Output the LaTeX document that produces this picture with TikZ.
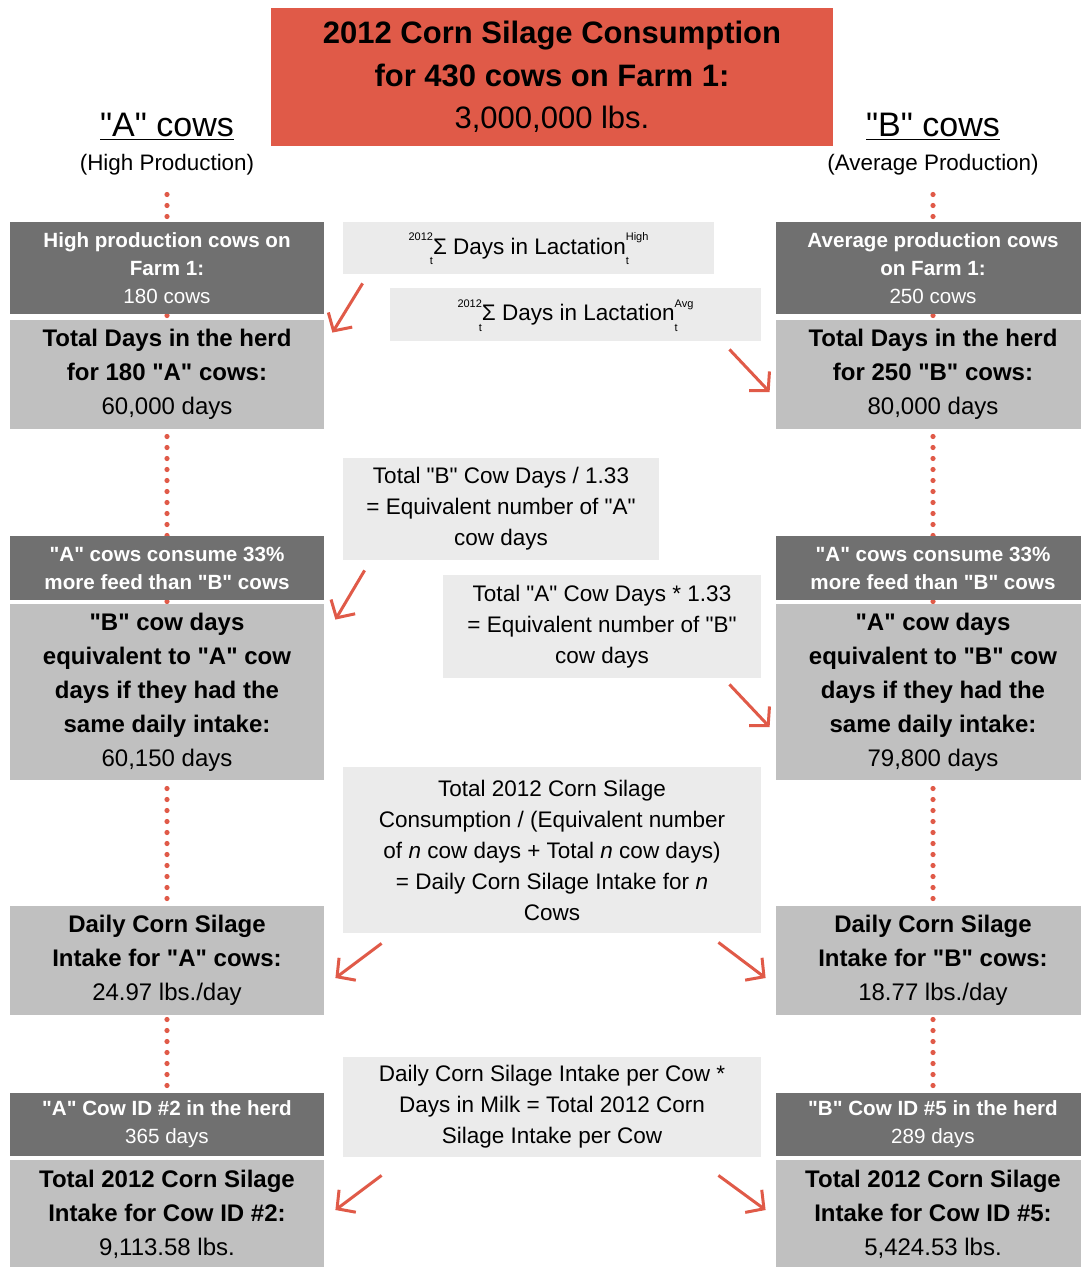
\documentclass[tikz,border=0pt]{standalone}
\usepackage{fontspec}
\setmainfont{Liberation Sans}
\usetikzlibrary{arrows.meta,calc,backgrounds}
\definecolor{silagered}{RGB}{224,90,72}
\definecolor{boxdark}{RGB}{112,112,112}
\definecolor{boxlight}{RGB}{192,192,192}
\definecolor{boxpale}{RGB}{235,235,235}
\newcommand{\dq}{\textquotedbl}
\newcommand{\scrstack}[3]{\raisebox{2pt}{\fontsize{5.5}{12}\selectfont\begin{tabular}{@{}#1@{}}#2\\#3\end{tabular}}}
\newcommand{\lactsum}[1]{\scrstack{r}{2012}{t}Σ Days in Lactation\scrstack{l}{#1}{t}}

\begin{document}
\begin{tikzpicture}[x=0.5pt,y=-0.5pt,
  darkbox/.style={fill=boxdark,text=white,align=center,inner sep=0pt,minimum width=157pt,font=\fontsize{10.3}{14}\selectfont},
  lightbox/.style={fill=boxlight,align=center,inner sep=0pt,minimum width=157pt,font=\fontsize{12}{17}\selectfont},
  palebox/.style={fill=boxpale,align=center,inner sep=0pt,font=\fontsize{11.25}{15.5}\selectfont},
  redarrow/.style={silagered,line width=1.5pt,-{Straight Barb[length=6.5pt,width=14pt]}},
  dots/.style={silagered,line width=2.6pt,line cap=round,dash pattern=on 0pt off 5.5pt}]
\useasboundingbox (0,0) rectangle (1080,1267);
\node[fill=silagered,minimum width=281pt,minimum height=69pt,align=center,inner sep=0pt,font=\fontsize{15.5}{21.25}\selectfont] (title) at (552,77) {\textbf{2012 Corn Silage Consumption}\\\textbf{for 430 cows on Farm 1:}\\3,000,000 lbs.};
\node[font=\fontsize{17}{20}\selectfont] (Ahead) at (167,127) {\underline{\dq{}A\dq{} cows}};
\node[font=\fontsize{11.2}{14}\selectfont] (Asub) at (167,165) {(High Production)};
\node[font=\fontsize{17}{20}\selectfont] (Bhead) at (933,127) {\underline{\dq{}B\dq{} cows}};
\node[font=\fontsize{11.2}{14}\selectfont] (Bsub) at (933,165) {(Average Production)};
% left column
\node[darkbox,minimum height=46pt] (Acount) at (167,268) {\textbf{High production cows on}\\\textbf{Farm 1:}\\180 cows};
\node[lightbox,minimum height=54.5pt] (Adays) at (167,374.5) {\textbf{Total Days in the herd}\\\textbf{for 180 \dq{}A\dq{} cows:}\\60,000 days};
\node[darkbox,minimum height=32pt] (Arate) at (167,568) {\textbf{\dq{}A\dq{} cows consume 33\%}\\\textbf{more feed than \dq{}B\dq{} cows}};
\node[lightbox,minimum height=88pt] (Aequiv) at (167,692) {\textbf{\dq{}B\dq{} cow days}\\\textbf{equivalent to \dq{}A\dq{} cow}\\\textbf{days if they had the}\\\textbf{same daily intake:}\\60,150 days};
\node[lightbox,minimum height=54.5pt] (Adaily) at (167,960.5) {\textbf{Daily Corn Silage}\\\textbf{Intake for \dq{}A\dq{} cows:}\\24.97 lbs./day};
\node[darkbox,minimum height=31.5pt] (Acow) at (167,1124.5) {\textbf{\dq{}A\dq{} Cow ID \#2 in the herd}\\365 days};
\node[lightbox,minimum height=54.5pt] (Atotal) at (167,1214.5) {\textbf{Total 2012 Corn Silage}\\\textbf{Intake for Cow ID \#2:}\\9,113.58 lbs.};
% right column
\node[darkbox,minimum height=46pt] (Bcount) at (933,268) {\textbf{Average production cows}\\\textbf{on Farm 1:}\\250 cows};
\node[lightbox,minimum height=54.5pt] (Bdays) at (933,374.5) {\textbf{Total Days in the herd}\\\textbf{for 250 \dq{}B\dq{} cows:}\\80,000 days};
\node[darkbox,minimum height=32pt] (Brate) at (933,568) {\textbf{\dq{}A\dq{} cows consume 33\%}\\\textbf{more feed than \dq{}B\dq{} cows}};
\node[lightbox,minimum height=88pt] (Bequiv) at (933,692) {\textbf{\dq{}A\dq{} cow days}\\\textbf{equivalent to \dq{}B\dq{} cow}\\\textbf{days if they had the}\\\textbf{same daily intake:}\\79,800 days};
\node[lightbox,minimum height=54.5pt] (Bdaily) at (933,960.5) {\textbf{Daily Corn Silage}\\\textbf{Intake for \dq{}B\dq{} cows:}\\18.77 lbs./day};
\node[darkbox,minimum height=31.5pt] (Bcow) at (933,1124.5) {\textbf{\dq{}B\dq{} Cow ID \#5 in the herd}\\289 days};
\node[lightbox,minimum height=54.5pt] (Btotal) at (933,1214.5) {\textbf{Total 2012 Corn Silage}\\\textbf{Intake for Cow ID \#5:}\\5,424.53 lbs.};
% formulas in the middle
\node[palebox,minimum width=185.5pt,minimum height=26pt] (sumhigh) at (528.5,248) {\lactsum{High}};
\node[palebox,minimum width=185.5pt,minimum height=26.5pt] (sumavg) at (575.5,314.5) {\lactsum{Avg}};
\node[palebox,minimum width=158pt,minimum height=51pt] (divide) at (501,509) {Total \dq{}B\dq{} Cow Days / 1.33\\= Equivalent number of \dq{}A\dq{}\\cow days};
\node[palebox,minimum width=159pt,minimum height=51.5pt] (multiply) at (602,626.5) {Total \dq{}A\dq{} Cow Days * 1.33\\= Equivalent number of \dq{}B\dq{}\\cow days};
\node[palebox,minimum width=209pt,minimum height=83pt] (intake) at (552,850) {Total 2012 Corn Silage\\Consumption / (Equivalent number\\of \textit{n} cow days + Total \textit{n} cow days)\\= Daily Corn Silage Intake for \textit{n}\\Cows};
\node[palebox,minimum width=209pt,minimum height=50pt] (percow) at (552,1107) {Daily Corn Silage Intake per Cow *\\Days in Milk = Total 2012 Corn\\Silage Intake per Cow};
% dotted guides behind the columns
\begin{scope}[on background layer]
\draw[dots] ([yshift=-6pt]Asub.south) -- (Atotal.south);
\draw[dots] ([yshift=-6pt]Bsub.south) -- (Btotal.south);
\end{scope}
% arrows
\draw[redarrow] ($(sumhigh.south west)+(20,9)$) -- ($(Adays.north east)+(8,13)$);
\draw[redarrow] ($(sumavg.south east)+(-32,8)$) -- ($(Bdays.west)+(-6,17.5)$);
\draw[redarrow] ($(divide.south west)+(22,10)$) -- ($(Aequiv.north east)+(11,16)$);
\draw[redarrow] ($(multiply.south east)+(-32,6)$) -- ($(Bequiv.west)+(-6,35)$);
\draw[redarrow] ($(intake.south west)+(39,10)$) -- ($(Adaily.east)+(11,17.5)$);
\draw[redarrow] ($(intake.south east)+(-43,9)$) -- ($(Bdaily.west)+(-10,17.5)$);
\draw[redarrow] ($(percow.south west)+(39,18)$) -- ($(Atotal.east)+(11,-4.5)$);
\draw[redarrow] ($(percow.south east)+(-43,18)$) -- ($(Btotal.west)+(-10,-4.5)$);
\end{tikzpicture}
\end{document}
